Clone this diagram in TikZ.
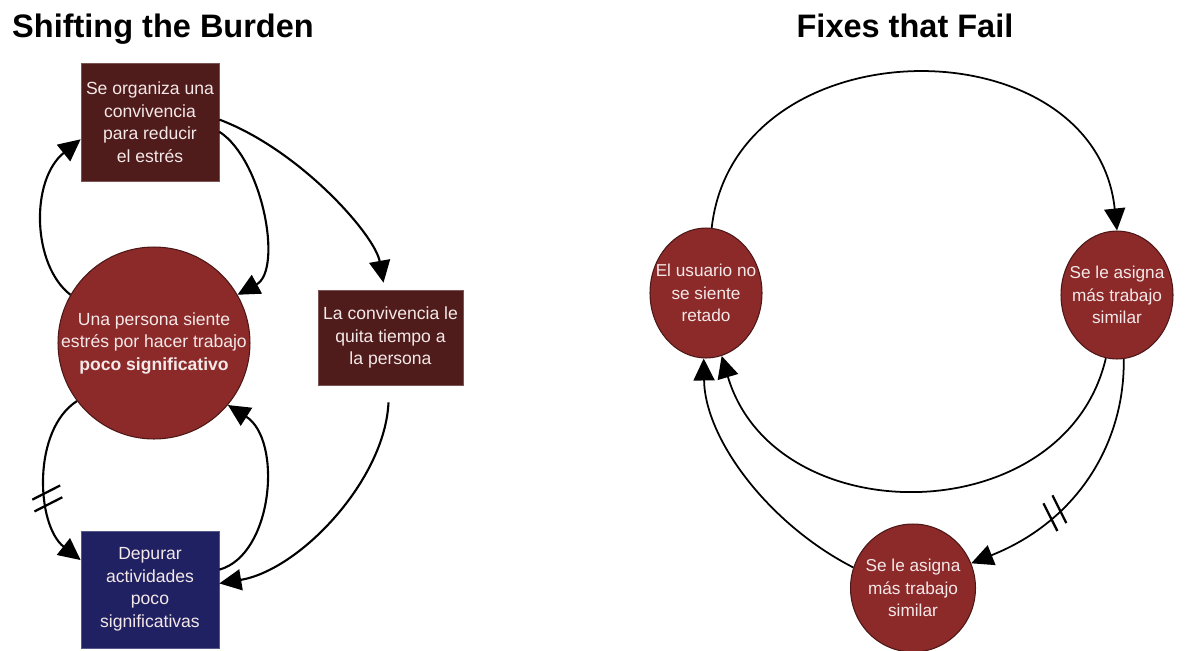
\documentclass[tikz,border=0pt]{standalone}
\usepackage{fontspec}
\setmainfont{Liberation Sans}
\usetikzlibrary{arrows.meta,shapes.geometric,calc,decorations.markings}
\definecolor{maroon}{HTML}{4F1B1B}
\definecolor{brick}{HTML}{8C2A2A}
\definecolor{navy}{HTML}{1F2163}
\definecolor{txt}{HTML}{F5E8E8}
\begin{document}
\begin{tikzpicture}[x=0.02cm,y=-0.02cm,
  title/.style={font=\fontsize{18.5}{20}\selectfont\bfseries, text=black, inner sep=0pt, anchor=base},
  lbl/.style={text=txt, align=center, inner sep=0pt, font=\fontsize{10}{12.8}\selectfont},
  rbox/.style={lbl, rectangle, fill=maroon, draw=maroon!75!white, line width=0.4pt},
  bbox/.style={lbl, rectangle, fill=navy, draw=navy!75!white, line width=0.4pt},
  bigcirc/.style={lbl, circle, fill=brick, draw=brick!55!black, line width=0.6pt, minimum size=3.84cm, inner xsep=-0.8cm, inner ysep=-0.3cm},
  oval/.style={lbl, ellipse, fill=brick, draw=brick!55!black, line width=0.6pt, font=\fontsize{9.8}{12.8}\selectfont, inner xsep=-0.6cm, inner ysep=-0.3cm},
  tip/.style={-{Triangle[length=0.44cm,width=0.42cm]}},
  conn/.style={line width=1.2pt, tip},
  connr/.style={line width=1pt, tip},
  delayL/.style={postaction={decorate}, decoration={markings, mark=at position #1 with {
      \draw[line width=1.3pt,-] (-0.03cm,-0.3cm) -- (-0.21cm,0.3cm);
      \draw[line width=1.3pt,-] (0.21cm,-0.3cm) -- (0.03cm,0.3cm);}}},
  delayR/.style={postaction={decorate}, decoration={markings, mark=at position #1 with {
      \draw[line width=1.3pt,-] (-0.20cm,-0.3cm) -- (-0.04cm,0.3cm);
      \draw[line width=1.3pt,-] (0.04cm,-0.3cm) -- (0.20cm,0.3cm);}}}
]
\useasboundingbox (0,0) rectangle (1191,650);

% titles
\node[title] (t1) at (163,37) {Shifting the Burden};
\node[title] (t2) at (905,37) {Fixes that Fail};

% left diagram
\node[rbox, minimum width=2.76cm, minimum height=2.36cm] (box1) at (150,122)
  {Se organiza una\\convivencia\\para reducir\\el estrés};
\node[bigcirc] (circ) at (154,343)
  {Una persona siente\\estrés por hacer trabajo\\\textbf{poco significativo}};
\node[rbox, minimum width=2.9cm, minimum height=1.9cm] (box2) at (390.5,337.5)
  {La convivencia le\\quita tiempo a\\la persona};
\node[bbox, minimum width=2.76cm, minimum height=2.34cm] (box3) at (150,589.5)
  {Depurar\\actividades\\poco\\significativas};

\draw[conn] (circ.150) .. controls (32,265) and (30,180) .. (box1.194);
\draw[conn] (box1.-8) .. controls (263,160) and (283,270) .. (circ.30);
\draw[conn] (box1.2) .. controls (300,150) and (375,235) .. ($(box2.north)+(-7,-7)$);
\draw[conn] ($(box2.south)+(-2,17)$) .. controls (385,480) and (300,570) .. (box3.5);
\draw[conn, delayL=0.6] (circ.217) .. controls (32,430) and (36,525) .. (box3.157);
\draw[conn] (box3.16) .. controls (273,555) and (283,440) .. (circ.320);

% right diagram
\node[oval, minimum width=2.24cm, minimum height=2.6cm] (A) at (706,293)
  {El usuario no\\se siente\\retado};
\node[oval, minimum width=2.24cm, minimum height=2.56cm] (B) at (1117,295)
  {Se le asigna\\más trabajo\\similar};
\node[oval, minimum width=2.5cm, minimum height=2.56cm] (C) at (913,588)
  {Se le asigna\\más trabajo\\similar};

\draw[connr] (A.85) .. controls (735,22) and (1095,22) .. (B.90);
\draw[connr] (B.260) .. controls (1065,532) and (775,535) .. (A.284);
\draw[connr, delayR=0.64] (B.276) .. controls (1125,440) and (1080,520) .. (C.23);
\draw[connr] (C.161) .. controls (770,525) and (705,440) .. (A.268);
\end{tikzpicture}
\end{document}
